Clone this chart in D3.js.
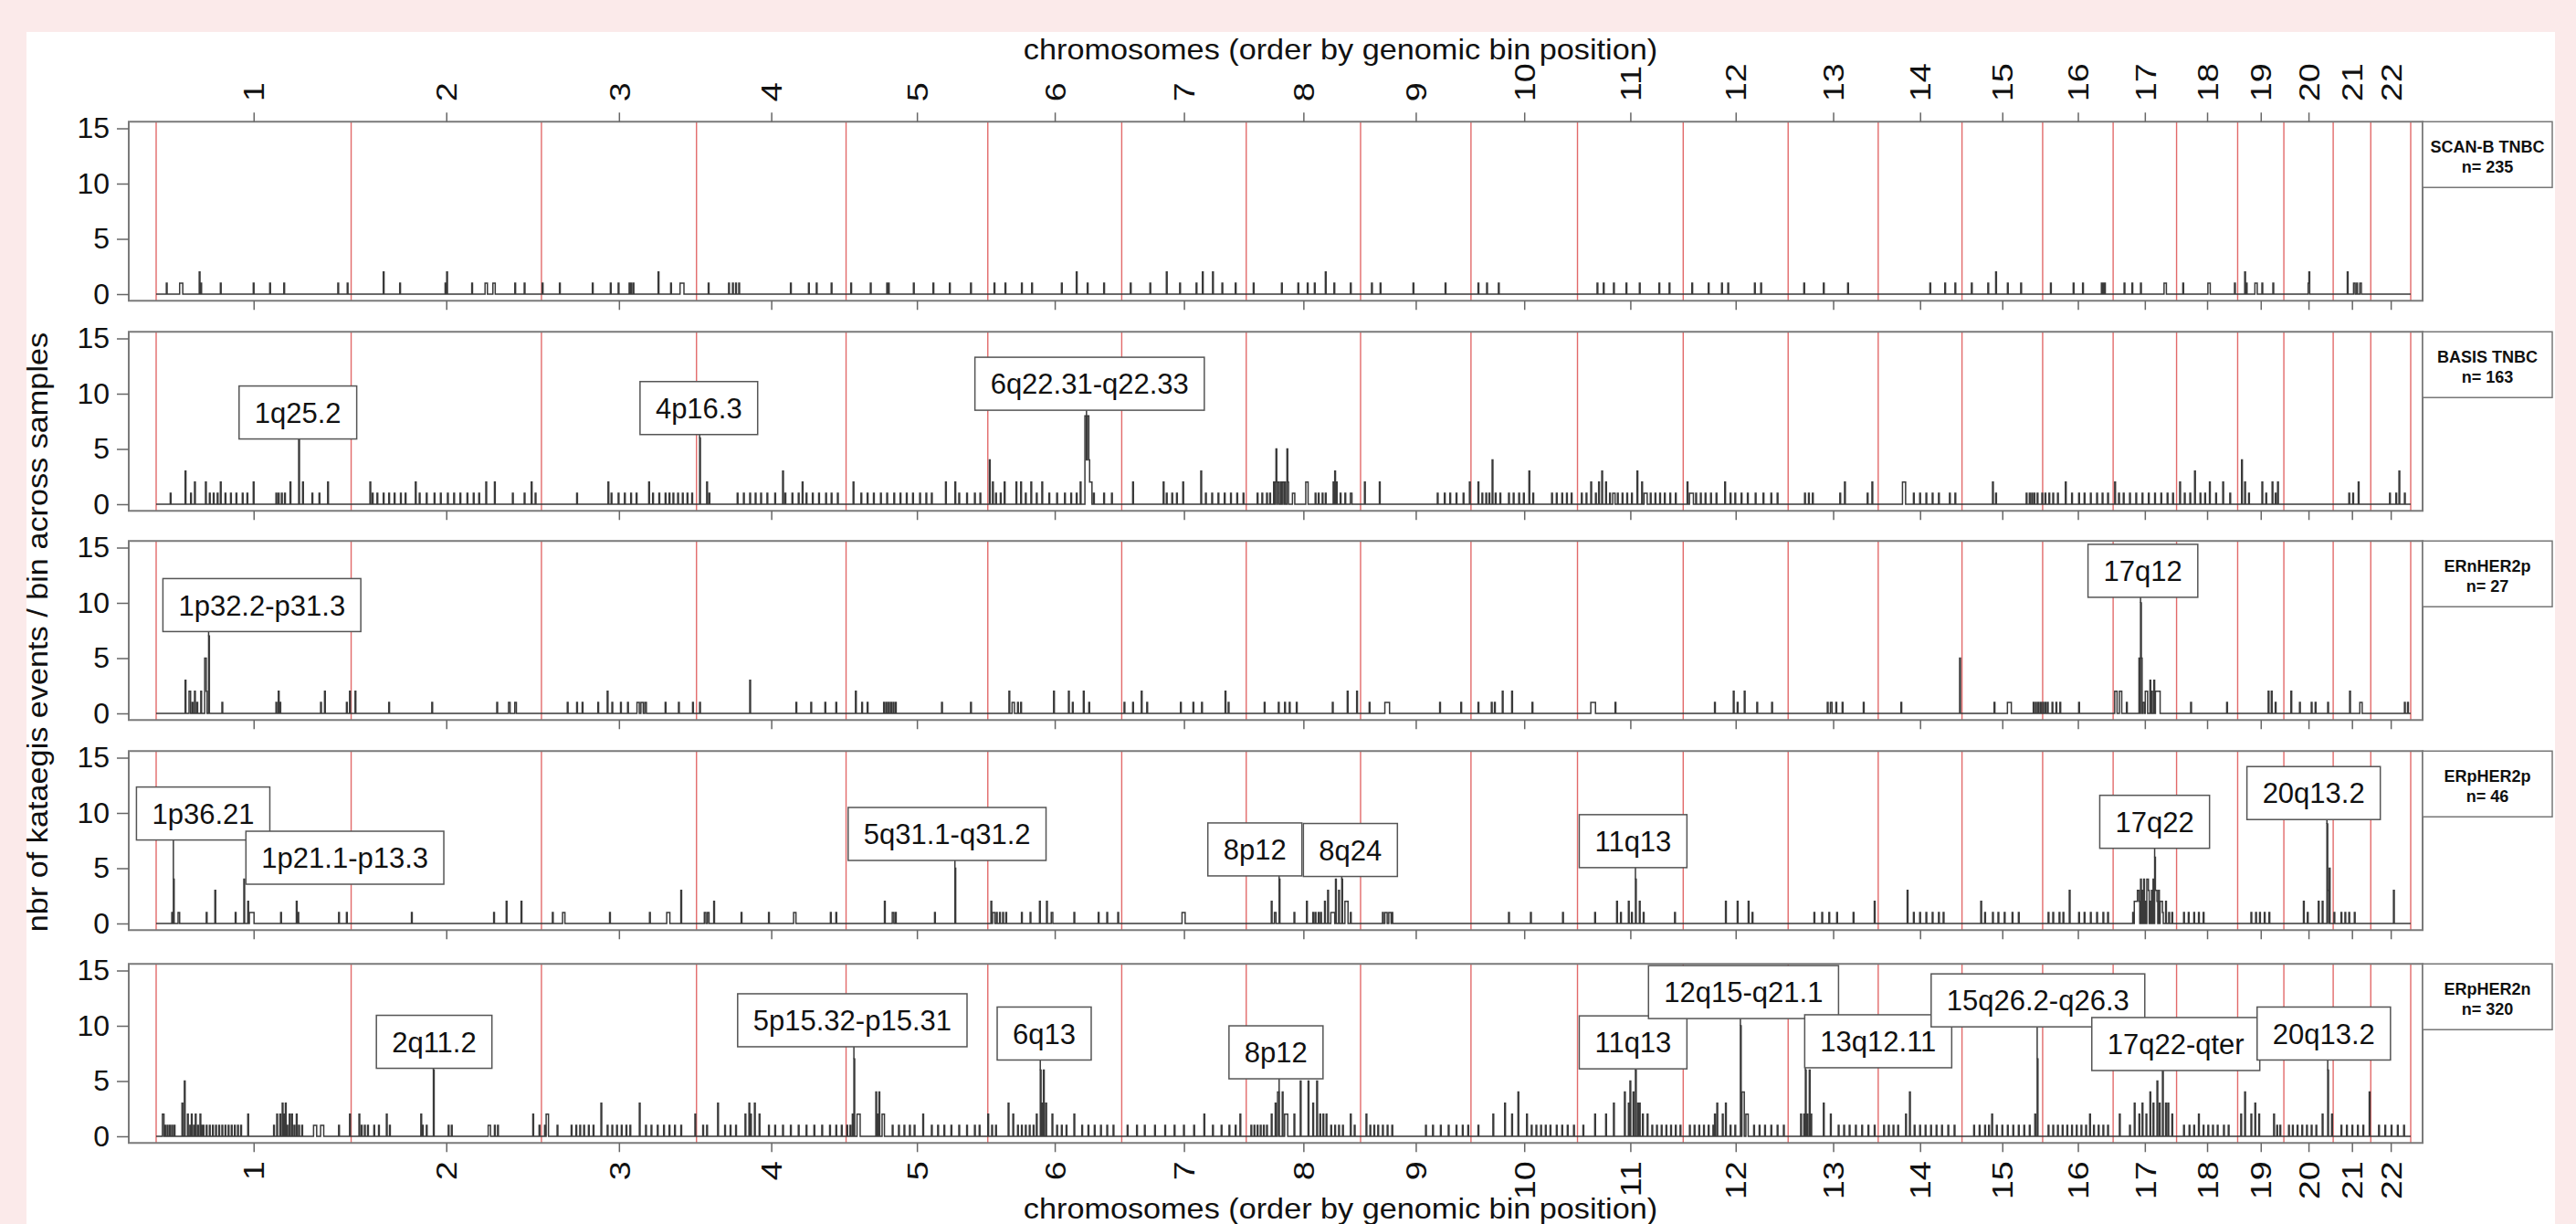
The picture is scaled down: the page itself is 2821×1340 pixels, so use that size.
<!DOCTYPE html>
<html>
<head>
<meta charset="utf-8">
<script src="https://cdn.jsdelivr.net/npm/d3@7"></script>
<style>
body { margin: 0; background: #fbeaea; }
svg { display: block; }
text { font-family: "Liberation Sans", Arial, Helvetica, sans-serif; fill: #111; }
</style>
</head>
<body>
<svg id="chart" width="2821" height="1340"></svg>
<script>
// chromosomes, 1 Mb bins
var chrNames = d3.range(1, 23).map(String);
var chrLength = [249,243,198,191,181,171,159,146,141,136,135,134,115,107,103,90,81,78,59,63,48,51];
var yTicks = [0, 5, 10, 15];

var panelNames = ["SCAN-B TNBC", "BASIS TNBC", "ERnHER2p", "ERpHER2p", "ERpHER2n"];
var panelN = [235, 163, 27, 46, 320];

// nonzero bins: [bin, count] or [bin, count, run length]
var scanbTnbc = [
  [13,1],[30,1,4],[55,2],[57,1],[82,1],[124,1],[145,1],[163,1],[232,1],[244,1],
  [290,2],[311,1],[369,1],[371,2],[403,1],[420,1,3],[430,1,3],[458,1],[470,1],
  [493,1],[515,1],[557,1],[580,1],[590,1],[604,1],[606,1],[609,1],[641,2],[657,1],[669,1,5],
  [705,1],[731,1],[736,1],[740,1],[744,1],[810,1],[833,1],[843,1],[862,1],
  [887,1],[912,1],[933,1],[935,1],[967,1],[992,1],[1013,1],[1040,1],
  [1070,1],[1084,1],[1105,1],[1118,1],[1156,1],[1175,2],[1189,1],[1210,1],
  [1244,1],[1269,1],[1290,2],[1307,1],[1328,1],[1336,2],[1349,2],[1361,1],[1378,1],
  [1401,1],[1437,1],[1458,1],[1470,1],[1479,1],[1493,2],[1504,1],[1525,1],
  [1552,1],[1563,1],[1605,1],[1646,1],[1688,1],[1699,1],[1714,1],
  [1840,1],[1848,1],[1861,1],[1877,1],[1894,1],[1919,1],[1932,1],
  [1961,1],[1982,1],[1999,1],[2007,1],[2041,1],[2049,1],[2104,1],[2129,1],[2160,1],
  [2265,1],[2284,1],[2297,1],[2318,1],[2339,1],[2349,2],[2364,1],[2381,1],
  [2419,1],[2448,1],[2460,1],[2484,1],[2486,1],[2488,1],
  [2513,1],[2523,1],[2534,1],[2564,1,3],[2588,1],[2620,1,3],
  [2654,1],[2667,2],[2669,1],[2680,1,3],[2689,1],[2703,1],[2748,1],[2749,2],
  [2798,2],[2806,1,2],[2810,1],[2814,1,2]
];

var basisTnbc = [
  [18,1],[37,3],[44,1],[49,2],[63,2],[68,1],[73,1],[78,1],[82,2],[88,1],[95,1],[102,1],[110,1],[116,1],
  [124,2],[153,1],[156,1],[160,1],[164,1],[171,2],[182,6],[187,2],[199,1],[208,1],[219,2],
  [273,2],[276,1],[282,1],[290,1],[297,1],[304,1],[312,1],[318,1],[331,2],[336,1],[345,1],[355,1],
  [363,1],[372,1],[380,1],[388,1],[397,1],[405,1],[412,1],[421,2],[432,2],[455,1],[470,1],[479,2],[484,1],
  [537,1],[577,2],[581,1],[590,1],[598,1],[606,1],[613,1],[629,2],[634,1],[642,1],[650,1],[655,1],
  [660,1],[666,1],[672,1],[678,1],[684,1],
  [694,6],[703,2],[706,1],[742,1],[750,1],[758,1],[765,1],[772,1],[780,1],[790,1],[800,3],[803,1],
  [812,1],[820,1],[825,2],[830,1],[838,1],[846,1],[855,1],[862,1],[870,1],
  [890,2],[900,1],[908,1],[916,1],[925,1],[933,1],[942,1],[950,1],[958,1],[966,1],[975,1],[983,1],
  [990,1],[1008,2],[1020,2],[1025,1],[1035,1],[1045,1],[1052,1],
  [1064,4],[1068,2],[1072,1],[1078,1],[1083,2],[1098,2],[1104,2],[1110,1],[1117,2],[1124,1],[1131,2],
  [1140,1],[1150,1],[1160,1],[1168,1],[1175,1],[1180,2],[1186,8,2],[1188,4],[1189,8,2],[1191,4],
  [1192,2,3],[1197,1],[1210,1],[1220,1],
  [1247,2],[1286,2],[1290,1],[1297,1],[1303,1],[1311,2],[1334,3],[1340,1],[1348,1],[1356,1],
  [1364,1],[1372,1],[1380,1],[1388,1],
  [1406,1],[1412,1],[1418,1],[1422,1],[1427,2],[1429,2],[1430,5],[1432,2,2],[1436,2],[1438,2,2],
  [1441,2],[1444,5],[1445,2],
  [1451,1,3],[1468,2,3],[1480,1],[1484,1],[1489,1],[1493,1],[1503,2],[1505,3],[1507,2],[1512,1],
  [1518,1],[1525,1,2],
  [1543,2],[1562,2],[1636,1],[1645,1],[1652,1],[1660,1],[1669,1],[1677,2],
  [1688,2],[1693,1],[1698,1],[1702,1],[1706,4],[1710,1],[1716,1],[1727,1],[1733,1],[1740,1],
  [1746,1],[1753,3],[1758,1],[1782,1],[1788,1],[1795,1],[1801,1],[1807,1],
  [1820,1],[1826,1],[1832,2],[1838,1],[1842,2],[1846,3],[1851,2],[1856,1],[1860,1,3],[1866,1],
  [1872,1],[1878,1],[1884,1],[1891,3],[1897,2],[1900,1,4],[1908,1],[1914,1],[1920,1],[1926,1],
  [1933,1],[1940,1],
  [1955,2],[1958,1,5],[1966,1],[1972,1],[1978,1],[1985,1],[1992,1],[2003,2],[2010,1],[2016,1],
  [2024,1],[2032,1],[2042,1],[2052,1],[2062,1],[2070,1],
  [2105,1],[2110,1],[2115,1],[2150,1],[2156,2],[2185,1],[2191,2],
  [2230,2,4],[2244,1],[2252,1],[2260,1],[2268,1],[2276,1],[2290,1],[2297,1],
  [2345,2],[2349,1],[2388,1],[2392,1],[2395,1],[2398,1],[2402,1],
  [2408,1],[2412,1],[2417,1],[2422,1],[2428,1],[2438,2],[2446,1],[2455,1],[2462,1],[2470,1],
  [2478,1],[2485,1],[2492,1],
  [2501,2],[2506,1],[2512,1],[2520,1],[2528,1],[2536,1],[2544,1],[2552,1],[2560,1],[2568,1],[2575,1],
  [2584,2],[2590,1],[2597,1],[2603,3],[2610,1],[2616,1],[2622,2],[2630,1],[2639,2],[2648,1],
  [2663,4],[2667,2],[2672,1],[2689,2],[2694,1],[2702,2],[2706,1],[2709,2],
  [2800,1],[2805,1],[2812,2],[2852,1],[2860,1],[2864,3],[2871,1]
];

var ernHer2p = [
  [37,3],[42,2,2],[46,1],[49,2],[52,1],[57,2],[62,5,2],[64,2],[67,7],[84,1],
  [153,1],[156,2],[158,1],[210,1],[215,2],[243,1],[247,2],
  [254,2],[297,1],[352,1],[435,1],[450,1,2],[458,1,2],
  [525,1],[537,1],[544,1],[564,1],[576,2],[582,1],[593,1],[602,1],[614,1,3],[619,1,3],[624,1,2],
  [650,1],[667,1],[685,1],
  [694,1],[758,3],[817,1],[836,1],[854,1],[868,1],
  [893,2],[901,1],[908,1],[929,1],[932,1],[935,1],[938,1],[941,1],[944,1],[1003,1],[1040,1],
  [1089,2],[1093,1,3],[1100,1],[1104,1],[1146,2],[1165,2],[1170,1],[1184,2],[1191,1],
  [1236,1],[1247,1],[1258,2],[1265,1],[1308,1],[1324,1],[1335,1],[1365,2],[1369,1],
  [1415,1],[1433,1],[1441,1],[1447,1],[1456,1],[1502,1],[1521,2],[1533,2],
  [1549,1],[1569,1,6],[1639,1],[1666,1],
  [1688,1],[1705,1],[1709,1],[1719,2],[1731,2],[1757,1],
  [1832,1,6],[1863,1],
  [1990,1],[2014,2],[2019,1],[2028,2],[2044,1],[2063,1],
  [2134,1],[2138,1,2],[2145,1],[2153,1],[2180,1],
  [2228,1],[2303,5],
  [2347,1],[2364,1,5],[2397,1],[2400,1],[2403,1],[2406,1],[2409,1],[2412,1],[2415,1],
  [2421,1],[2426,1],[2431,1],[2455,1],
  [2501,2,3],[2507,2,3],[2516,1],[2532,5],[2534,10],[2535,5],[2537,1,2],[2540,2,3],[2546,3],
  [2548,2],[2551,3],[2553,2,6],
  [2598,1],[2644,1],
  [2697,2],[2701,2],[2706,1],[2726,2],[2737,1],[2752,1],[2757,1],[2773,1],
  [2801,2],[2814,1,3],[2871,1],[2875,1]
];

var erpHer2p = [
  [20,1],[22,4],[28,1,2],[64,1],[75,3],[101,1],[112,4],[117,2],[119,1,6],[159,1],[179,2],[181,1],
  [233,1],[243,1],
  [326,1],[431,1],[447,2],[466,2],
  [506,1],[519,1,3],[579,1],[630,1],[652,1,4],[670,3],
  [700,1,2],[704,1,2],[712,2],[747,1],[782,1],[814,1,3],[861,1],[868,1],
  [930,2],[940,1,2],[944,1],[994,1],[1020,5],
  [1066,2],[1068,1,3],[1073,1],[1077,1],[1081,1],[1085,1],[1105,1],[1116,1],[1128,2],[1137,2],
  [1143,1,2],[1172,1],[1203,1],[1214,1],[1228,1],
  [1310,1,4],
  [1424,2],[1428,1,2],[1434,4],[1453,1],[1469,2],[1477,1],[1480,1],[1484,1],[1487,1],[1492,2],
  [1496,3],[1500,1,5],[1506,4],[1510,3],[1514,4],[1518,2,3],[1521,2],[1525,1],
  [1566,1],[1569,1,3],[1574,1,3],[1578,1],
  [1727,1],[1755,1],[1796,1],
  [1837,1],[1865,2],[1870,1],[1880,2],[1884,1],[1889,4],[1894,2],[1899,1],[1939,1],
  [2004,2],[2019,2],[2033,2],[2038,1],
  [2117,1],[2127,1],[2136,1],[2146,1],[2167,1],[2194,2],
  [2236,3],[2244,1],[2252,1],[2260,1],[2268,1],[2276,1],[2282,1],
  [2330,2],[2335,1],[2345,1],[2352,1],[2360,1],[2370,1],[2378,1],
  [2416,1],[2422,1],[2430,1],[2435,1],[2443,3],[2455,1],[2462,1],[2470,1],[2478,1],[2486,1],[2492,1],
  [2524,1],[2526,2,4],[2530,3,2],[2532,2],[2534,4],[2536,3],[2538,4],[2540,2],[2542,4,2],[2544,3],
  [2546,2],[2548,3],[2550,4],[2552,6],[2553,3,2],[2555,2],[2557,3],[2559,2,3],[2562,1],[2566,2],
  [2570,1],[2574,1],
  [2589,1],[2595,1],[2602,1],[2608,1],[2614,1],
  [2675,1],[2681,1],[2686,1],[2692,1],[2698,1],
  [2742,2],[2747,1],[2761,2],[2766,2],[2772,9],[2773,3],[2775,5],[2781,1],[2790,1],[2795,1],
  [2800,1],[2807,1],[2857,3]
];

var erpHer2n = [
  [8,2,2],[11,1],[14,1],[17,1],[20,1],[23,1],[33,3],[36,5],[40,2],[43,1],[45,2],[48,1],[50,2],[53,1],
  [56,2],[58,1],[60,1],[64,1],[68,1],[72,1],[76,1],[80,1],[84,1],[88,1],[92,1],[96,1],[100,1],[104,1],
  [108,1],[117,2],[150,1],[154,2],[158,2],[161,3],[163,2],[165,3],[167,1],[170,2],[173,2],[176,1],
  [179,2],[182,1],[186,1],[201,1,4],[210,1,4],[233,1],[247,2],
  [259,2],[262,1],[266,1],[270,1],[278,1],[284,1],[294,2],[298,1],[338,2],[340,1],[345,1],[354,6],
  [373,1],[377,1],[424,1,3],[432,1],[436,1],[481,2],
  [489,1],[496,1],[498,2,3],[512,1],[530,1],[536,1],[541,1],[546,1],[552,1],[558,1],[568,3],[576,1],
  [582,1],[588,1],[594,1],[600,1],[605,1],[617,3],[625,1],[632,1],[640,1],[648,1],[655,1],[662,1],
  [670,1],[688,2],
  [698,1],[703,1],[717,3],[726,1],[733,1],[740,1],[752,2],[757,3],[759,2],[764,3],[770,2],[782,1],
  [790,1],[800,1],[810,1],[820,1],[830,1],[840,1],[850,1],[860,1],[868,1],[875,1],
  [882,1],[886,1],[889,2],[891,7],[895,2,4],[919,4],[921,2],[923,4],[927,2,3],[940,1],[948,1],
  [955,1],[962,1],[968,1],[979,2],[990,1],[998,1],[1006,1],[1015,1],[1025,1],[1035,1],[1045,1],[1051,1],
  [1062,2],[1067,1],[1072,1],[1088,3],[1094,2],[1100,1],[1105,1],[1110,1],[1115,1],[1120,1],[1124,2],
  [1129,6],[1131,3],[1133,6],[1136,3],[1144,2],[1150,1],[1156,1],[1162,1],[1172,2],[1182,1],[1190,1],
  [1198,1],[1206,1],[1214,1],[1222,1],
  [1240,1],[1252,1],[1262,1],[1275,1],[1288,1],[1300,1],[1312,1],[1325,1],[1338,2],[1349,1],[1360,1],
  [1370,1],[1378,1],[1384,2],
  [1398,1],[1402,1],[1406,1],[1410,1],[1414,1],[1418,1],[1424,2],[1429,3],[1432,4,2],[1438,4],
  [1441,2,4],[1453,2],[1461,5],[1471,5],[1477,3],[1482,5],[1486,2],[1490,2],[1494,2],[1500,1],
  [1505,1],[1510,1],[1515,1],[1525,2],[1530,1],
  [1545,2],[1550,1],[1555,1],[1560,1],[1566,1],[1572,1],[1578,1],[1621,1],[1630,1],[1640,1],
  [1650,1],[1660,1],[1668,1],[1675,1],
  [1688,1],[1707,2],[1722,3],[1731,2],[1739,4],[1750,2],[1756,1],[1762,1],[1768,1],[1774,1],
  [1780,1],[1788,1],[1795,1],[1802,1],[1810,1],
  [1822,1],[1837,2],[1851,2],[1861,3],[1875,4],[1880,3],[1882,5],[1886,4],[1889,6],[1892,3],
  [1894,3],[1898,2],[1904,2],[1910,1],[1916,1],[1922,1],[1928,1],[1934,1],[1940,1],[1946,1],
  [1958,1],[1964,1],[1970,1],[1976,1],[1982,1],[1988,1],[1990,2],[1993,3],[2000,2],[2004,3],
  [2010,1],[2016,1],[2023,10],[2025,4,3],[2030,2,3],[2040,1],[2047,1],[2054,1],[2062,1],[2070,1],[2078,1],
  [2100,2],[2104,2],[2106,6],[2108,2],[2111,6],[2113,2],[2129,3],[2138,2],[2148,1],[2155,1],
  [2162,1],[2170,1],[2178,1],[2186,1],[2194,1],
  [2206,1],[2212,1],[2218,1],[2224,1],[2234,2],[2239,4],[2245,1],[2252,1],[2259,1],[2266,1],
  [2273,1],[2280,1],[2288,1],[2296,1],
  [2321,1],[2328,1],[2335,1],[2340,1],[2344,2],[2350,1],[2357,1],[2364,1],[2371,1],[2378,1],
  [2385,1],[2392,1],[2399,2],[2402,7],
  [2416,1],[2422,1],[2428,1],[2434,1],[2440,1],[2446,1],[2452,1],[2458,1],[2464,1],[2469,2],
  [2474,1],[2480,1],[2486,1],[2492,1],
  [2507,2],[2520,1],[2526,3],[2532,2],[2536,3],[2541,2],[2546,4],[2550,3],[2555,5],[2558,3],
  [2562,6],[2566,3],[2569,3],[2574,2],
  [2589,1],[2596,1],[2602,1],[2608,2],[2614,1],[2620,1],[2626,1],[2632,1],[2640,1],[2646,1],
  [2662,2],[2667,4],[2675,2],[2680,3],[2685,2],[2704,2],[2708,1],[2712,1],
  [2723,1],[2728,1],[2734,1],[2740,1],[2746,1],[2752,1],[2758,1],[2766,2],[2773,6],[2778,2],
  [2790,1],[2797,1],[2804,1],[2811,1],[2818,1],[2826,4],
  [2838,1],[2846,1],[2854,1],[2862,1],[2870,1]
];

// annotated regions: [label, peak bin, box centre bin, box centre value]
var scanbLabels = [];
var basisLabels = [
  ["1q25.2", 182, 181, 8.3],
  ["4p16.3", 694, 693, 8.7],
  ["6q22.31-q22.33", 1188, 1192, 10.9]
];
var ernLabels = [
  ["1p32.2-p31.3", 67, 135, 9.8],
  ["17q12", 2534, 2537, 12.9]
];
var erpHer2pLabels = [
  ["1p36.21", 22, 60, 9.95],
  ["1p21.1-p13.3", 112, 241, 5.95],
  ["5q31.1-q31.2", 1020, 1010, 8.1],
  ["8p12", 1434, 1403, 6.7],
  ["8q24", 1514, 1525, 6.65],
  ["11q13", 1889, 1886, 7.45],
  ["17q22", 2552, 2552, 9.2],
  ["20q13.2", 2772, 2755, 11.8]
];
var erpHer2nLabels = [
  ["2q11.2", 354, 355, 8.55],
  ["5p15.32-p15.31", 891, 889, 10.5],
  ["6q13", 1129, 1134, 9.3],
  ["8p12", 1434, 1430, 7.6],
  ["11q13", 1889, 1886, 8.5],
  ["12q15-q21.1", 2023, 2027, 13.05],
  ["13q12.11", 2106, 2199, 8.6],
  ["15q26.2-q26.3", 2402, 2403, 12.3],
  ["17q22-qter", 2562, 2579, 8.35],
  ["20q13.2", 2773, 2768, 9.3]
];

var panelEvents = [scanbTnbc, basisTnbc, ernHer2p, erpHer2p, erpHer2n];
var panelLabels = [scanbLabels, basisLabels, ernLabels, erpHer2pLabels, erpHer2nLabels];

var chrEnd = d3.cumsum(chrLength);
var chrStart = chrEnd.map(function(e, i) { return e - chrLength[i]; });
var chrMid = chrStart.map(function(s, i) { return s + chrLength[i] / 2; });
var totalBins = chrEnd[chrEnd.length - 1];
var chrBounds = [0].concat(Array.from(chrEnd));

function expand(events) {
  var b = new Array(totalBins + 1).fill(0);
  events.forEach(function(e) {
    var n = e[2] || 1;
    for (var k = 0; k < n; k++) b[e[0] + k] = e[1];
  });
  b[totalBins] = 0;
  return b;
}

// layout
var boxLeft = 141, boxRight = 2653, stripRight = 2795;
var panelZero = [322, 552, 781, 1011, 1244], unitPx = 12.1;
var labelFont = 31, boxPad = 17, boxH = 58;
var chrFont = 32, chrStretch = 1.18;

var svg = d3.select("#chart");
svg.append("rect").attr("x", 29).attr("y", 35).attr("width", 2798 - 29).attr("height", 1340 - 35)
  .attr("fill", "#fff");

var xScale = d3.scaleLinear().domain([0, totalBins]).range([171, 2640]);

var valueline = function(yScale) {
  return d3.line().curve(d3.curveStepAfter)
    .x(function(d, k) { return xScale(k); })
    .y(function(d) { return yScale(d); });
};

panelNames.forEach(function(name, i) {
  var zero = panelZero[i];
  var yScale = d3.scaleLinear().domain([0, 15]).range([zero, zero - 15 * unitPx]);
  var top = yScale(15.6), bottom = yScale(-0.6);
  var g = svg.append("g").attr("class", "panel");

  // chromosome boundaries
  g.selectAll(".chrline").data(chrBounds).enter().append("line")
    .attr("class", "chrline")
    .attr("x1", function(d) { return xScale(d); })
    .attr("x2", function(d) { return xScale(d); })
    .attr("y1", top).attr("y2", bottom)
    .attr("stroke", "#e26a6a").attr("stroke-width", 1.4);

  // counts per bin
  var bins = expand(panelEvents[i]);
  g.append("path").datum(bins)
    .attr("d", valueline(yScale))
    .attr("fill", "none").attr("stroke", "#3a3a3a").attr("stroke-width", 1.5);

  g.append("rect")
    .attr("x", boxLeft).attr("y", top)
    .attr("width", boxRight - boxLeft).attr("height", bottom - top)
    .attr("fill", "none").attr("stroke", "#7a7a7a").attr("stroke-width", 2);

  // y axis
  var ya = g.append("g").attr("transform", "translate(" + boxLeft + ",0)")
    .call(d3.axisLeft(yScale).tickValues(yTicks).tickSize(13).tickPadding(8));
  ya.select(".domain").remove();
  ya.selectAll("line").attr("stroke", "#666").attr("stroke-width", 1.5);
  ya.selectAll("text").attr("font-size", 32).attr("fill", "#111")
    .attr("font-family", "Liberation Sans, Arial, sans-serif");

  // bottom ticks
  var xa = g.append("g").attr("transform", "translate(0," + bottom + ")")
    .call(d3.axisBottom(xScale).tickValues(chrMid).tickSize(10).tickFormat(function(d, k) { return chrNames[k]; }));
  xa.select(".domain").remove();
  xa.selectAll("line").attr("stroke", "#666").attr("stroke-width", 1.5);
  if (i === panelNames.length - 1) {
    xa.selectAll("text").attr("font-size", chrFont).attr("fill", "#111")
      .attr("font-family", "Liberation Sans, Arial, sans-serif")
      .attr("y", null).attr("dy", "0.35em")
      .attr("transform", "translate(0,20) rotate(-90) scale(" + chrStretch + ",1)")
      .attr("text-anchor", "end");
  } else {
    xa.selectAll("text").remove();
  }

  // top axis on the first panel
  if (i === 0) {
    var ta = g.append("g").attr("transform", "translate(0," + top + ")")
      .call(d3.axisTop(xScale).tickValues(chrMid).tickSize(10).tickFormat(function(d, k) { return chrNames[k]; }));
    ta.select(".domain").remove();
    ta.selectAll("line").attr("stroke", "#666").attr("stroke-width", 1.5)
      .attr("opacity", function(d, k) { return k < 20 ? 1 : 0; });
    ta.selectAll("text").attr("font-size", chrFont).attr("fill", "#111")
      .attr("font-family", "Liberation Sans, Arial, sans-serif")
      .attr("y", null).attr("dy", "0.35em")
      .attr("transform", "translate(0,-22) rotate(-90) scale(" + chrStretch + ",1)")
      .attr("text-anchor", "start");
  }

  // strip label
  var strip = g.append("g");
  strip.append("rect").attr("x", boxRight).attr("y", top)
    .attr("width", stripRight - boxRight).attr("height", 72)
    .attr("fill", "#fff").attr("stroke", "#777").attr("stroke-width", 1.5);
  strip.append("text").attr("x", (boxRight + stripRight) / 2).attr("y", top + 34)
    .attr("text-anchor", "middle").attr("font-size", 18).attr("font-weight", "bold").text(name);
  strip.append("text").attr("x", (boxRight + stripRight) / 2).attr("y", top + 56)
    .attr("text-anchor", "middle").attr("font-size", 18).attr("font-weight", "bold").text("n= " + panelN[i]);

  // region labels
  panelLabels[i].forEach(function(l) {
    var lg = g.append("g");
    var cx = xScale(l[2]), cy = yScale(l[3]);
    var peakY = yScale(bins[l[1]]);
    if (peakY > cy + boxH / 2) {
      lg.append("line").attr("x1", xScale(l[1])).attr("x2", xScale(l[1]))
        .attr("y1", peakY).attr("y2", cy + boxH / 2)
        .attr("stroke", "#3a3a3a").attr("stroke-width", 1.5);
    }
    var t = lg.append("text").attr("x", cx).attr("y", cy).attr("dy", "0.36em")
      .attr("text-anchor", "middle").attr("font-size", labelFont).text(l[0]);
    var w = t.node().getComputedTextLength() + 2 * boxPad;
    lg.insert("rect", "text").attr("x", cx - w / 2).attr("y", cy - boxH / 2)
      .attr("width", w).attr("height", boxH)
      .attr("fill", "#fff").attr("stroke", "#555").attr("stroke-width", 1.5);
  });
});

// titles
var titleX = (boxLeft + stripRight) / 2;
svg.append("text").attr("transform", "translate(" + titleX + ",65) scale(1.07,1)").attr("text-anchor", "middle")
  .attr("font-size", 32).text("chromosomes (order by genomic bin position)");
svg.append("text").attr("transform", "translate(" + titleX + ",1334) scale(1.07,1)").attr("text-anchor", "middle")
  .attr("font-size", 32).text("chromosomes (order by genomic bin position)");
svg.append("text").attr("transform", "translate(52,692) rotate(-90) scale(1.07,1)").attr("text-anchor", "middle")
  .attr("font-size", 32).text("nbr of kataegis events / bin across samples");
</script>
</body>
</html>
